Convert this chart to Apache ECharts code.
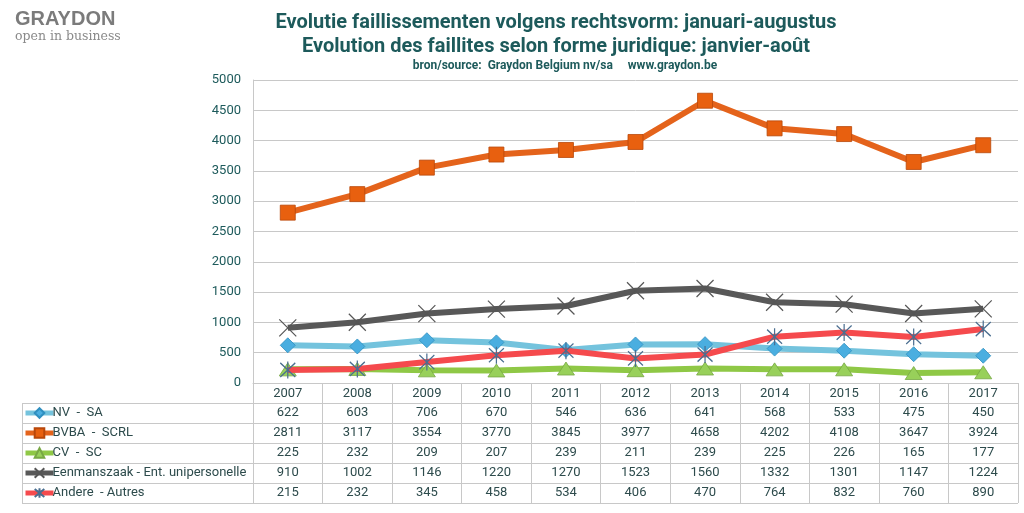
<!DOCTYPE html>
<html><head><meta charset="utf-8">
<script src="https://cdn.jsdelivr.net/npm/echarts@6/dist/echarts.min.js"></script>
<style>html,body{margin:0;padding:0;background:#fff}#c{width:1024px;height:513px}</style>
</head><body><div id="c"></div>
<script>
const years = ['2007','2008','2009','2010','2011','2012','2013','2014','2015','2016','2017'];
const seriesNames = ['NV  -  SA','BVBA  -  SCRL','CV  -  SC','Eenmanszaak - Ent. unipersonelle','Andere  - Autres'];
const nvSa = [622,603,706,670,546,636,641,568,533,475,450];
const bvba = [2811,3117,3554,3770,3845,3977,4658,4202,4108,3647,3924];
const cvSc = [225,232,209,207,239,211,239,225,226,165,177];
const eenmanszaak = [910,1002,1146,1220,1270,1523,1560,1332,1301,1147,1224];
const andere = [215,232,345,458,534,406,470,764,832,760,890];
const yTicks = {min:0, max:5000, interval:500};

const allData = [nvSa,bvba,cvSc,eenmanszaak,andere];
const teal = '#1d5a5b';
const txt = '#2d4b4c';
const gridCol = '#c8c8c8';

const chart = echarts.init(document.getElementById('c'));
const GL=253, GR=6, GT=80, GB=130;
const rowTop = 402.5, rowH = 20, tableLeft = 22;

const styles = [
  {line:'#74c3dd', sym:'diamond', size:[15,15], fill:'#4aaee0', border:'#2f8fc0', bw:0.8},
  {line:'#e4631b', sym:'rect', size:[15,15], fill:'#e8600f', border:'#b8470a', bw:0.8},
  {line:'#8fc846', sym:'triangle', size:[17,13], fill:'#98d05a', border:'#78a844', bw:0.8},
  {line:'#585858', sym:'path://M0,0L10,10M10,0L0,10', size:[17,17], fill:'none', border:'#555555', bw:1.2},
  {line:'#f54a4d', sym:'path://M0,1L10,11M10,1L0,11M5,0L5,12', size:[15,17], fill:'none', border:'#4a6e90', bw:1.3}
];

const series = allData.map((d,i)=>({
  name: seriesNames[i], type:'line', data:d, symbol:styles[i].sym, symbolSize:styles[i].size,
  lineStyle:{color:styles[i].line, width:6}, z: 2+i,
  itemStyle: styles[i].fill==='none'
    ? {color:'rgba(0,0,0,0)', borderColor:styles[i].border, borderWidth:styles[i].bw}
    : {color:styles[i].fill, borderColor:styles[i].border, borderWidth:styles[i].bw},
  emphasis:{disabled:true}, animation:false
}));

chart.setOption({
  animation:false,
  backgroundColor:'#fff',
  textStyle:{fontFamily:'Roboto'},
  title:[
    {text:'Evolutie faillissementen volgens rechtsvorm: januari-augustus\nEvolution des faillites selon forme juridique: janvier-août',
     left:551, top:6, textAlign:'center',
     textStyle:{fontFamily:'Roboto', fontWeight:'bold', fontSize:20, lineHeight:24, color:teal}},
    {text:'bron/source:  Graydon Belgium nv/sa     www.graydon.be', left:560, top:55, textAlign:'center',
     textStyle:{fontFamily:'Roboto', fontWeight:'bold', fontSize:12, color:teal}}
  ],
  legend:{orient:'vertical', left:tableLeft+1, top:rowTop+3.5, itemGap:6, itemWidth:28, itemHeight:12,
    data: seriesNames.map((n,i)=>({name:n, lineStyle:{width:5, color:styles[i].line}})),
    textStyle:{color:txt, fontSize:13, fontFamily:'Roboto', padding:[0,0,0,-6], lineHeight:14}, selectedMode:false, padding:0},
  grid:{left:GL, right:GR, top:GT, bottom:GB},
  xAxis:{type:'category', data:years, boundaryGap:true,
    axisLine:{lineStyle:{color:gridCol, width:1}},
    axisTick:{show:true, interval:0, length:120, lineStyle:{color:gridCol}},
    axisLabel:{color:txt, fontSize:13, margin:4, interval:0}},
  yAxis:{type:'value', min:yTicks.min, max:yTicks.max, interval:yTicks.interval,
    axisLine:{show:true, lineStyle:{color:gridCol}},
    axisTick:{show:false},
    splitLine:{lineStyle:{color:gridCol}},
    axisLabel:{color:teal, fontSize:13, margin:12, formatter:(v)=>String(v)}},
  series: series
});

const gfx = [];
gfx.push({type:'text', left:15, top:9, style:{text:'GRAYDON', font:'bold 20px "Liberation Sans", Arial', fill:'#7b7b7b'}});
gfx.push({type:'text', left:15, top:30, style:{text:'open in business', font:'12.5px "DejaVu Serif", serif', fill:'#8a8a8a'}});
const xEnd = 1024-GR;
for(let r=0;r<=5;r++){
  const y = Math.round(rowTop + r*rowH)+0.5;
  gfx.push({type:'line', shape:{x1:tableLeft, y1:y, x2:xEnd, y2:y}, style:{stroke:gridCol, lineWidth:1}, silent:true});
}
gfx.push({type:'line', shape:{x1:tableLeft+0.5, y1:Math.round(rowTop)+0.5, x2:tableLeft+0.5, y2:Math.round(rowTop+5*rowH)+0.5}, style:{stroke:gridCol, lineWidth:1}, silent:true});
allData.forEach((d,r)=>{
  d.forEach((v,c)=>{
    const x = chart.convertToPixel({xAxisIndex:0}, years[c]);
    gfx.push({type:'text', x:x, y:rowTop + r*rowH + rowH/2, style:{text:String(v), fill:txt, font:'13px Roboto', align:'center', verticalAlign:'middle'}, silent:true});
  });
});
chart.setOption({graphic:gfx});
</script></body></html>
